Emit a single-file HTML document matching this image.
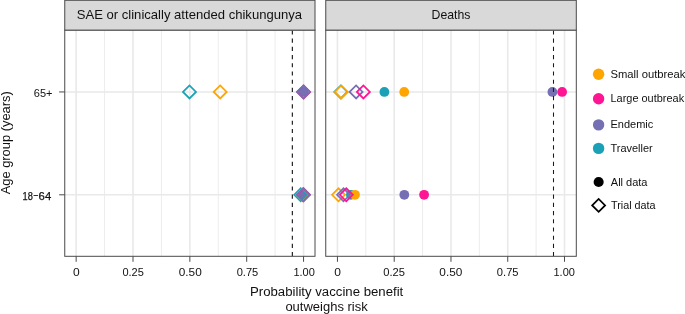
<!DOCTYPE html>
<html><head><meta charset="utf-8"><title>Figure</title><style>html,body{margin:0;padding:0;background:#fff}svg{display:block}</style></head><body>
<svg width="685" height="314" viewBox="0 0 685 314" font-family="'Liberation Sans', sans-serif" fill="#111">
<rect width="685" height="314" fill="#fff"/>
<line x1="104.58" x2="104.58" y1="30.10" y2="256.30" stroke="#e9e9e9" stroke-width="0.85"/>
<line x1="161.43" x2="161.43" y1="30.10" y2="256.30" stroke="#e9e9e9" stroke-width="0.85"/>
<line x1="218.28" x2="218.28" y1="30.10" y2="256.30" stroke="#e9e9e9" stroke-width="0.85"/>
<line x1="275.12" x2="275.12" y1="30.10" y2="256.30" stroke="#e9e9e9" stroke-width="0.85"/>
<line x1="76.15" x2="76.15" y1="30.10" y2="256.30" stroke="#e9e9e9" stroke-width="1.6"/>
<line x1="133.00" x2="133.00" y1="30.10" y2="256.30" stroke="#e9e9e9" stroke-width="1.6"/>
<line x1="189.85" x2="189.85" y1="30.10" y2="256.30" stroke="#e9e9e9" stroke-width="1.6"/>
<line x1="246.70" x2="246.70" y1="30.10" y2="256.30" stroke="#e9e9e9" stroke-width="1.6"/>
<line x1="303.55" x2="303.55" y1="30.10" y2="256.30" stroke="#e9e9e9" stroke-width="1.6"/>
<line x1="64.75" x2="315.00" y1="91.95" y2="91.95" stroke="#e9e9e9" stroke-width="1.5"/>
<line x1="64.75" x2="315.00" y1="194.80" y2="194.80" stroke="#e9e9e9" stroke-width="1.5"/>
<line x1="365.83" x2="365.83" y1="30.10" y2="256.30" stroke="#e9e9e9" stroke-width="0.85"/>
<line x1="422.59" x2="422.59" y1="30.10" y2="256.30" stroke="#e9e9e9" stroke-width="0.85"/>
<line x1="479.36" x2="479.36" y1="30.10" y2="256.30" stroke="#e9e9e9" stroke-width="0.85"/>
<line x1="536.12" x2="536.12" y1="30.10" y2="256.30" stroke="#e9e9e9" stroke-width="0.85"/>
<line x1="337.45" x2="337.45" y1="30.10" y2="256.30" stroke="#e9e9e9" stroke-width="1.6"/>
<line x1="394.21" x2="394.21" y1="30.10" y2="256.30" stroke="#e9e9e9" stroke-width="1.6"/>
<line x1="450.98" x2="450.98" y1="30.10" y2="256.30" stroke="#e9e9e9" stroke-width="1.6"/>
<line x1="507.74" x2="507.74" y1="30.10" y2="256.30" stroke="#e9e9e9" stroke-width="1.6"/>
<line x1="564.50" x2="564.50" y1="30.10" y2="256.30" stroke="#e9e9e9" stroke-width="1.6"/>
<line x1="325.75" x2="576.30" y1="91.95" y2="91.95" stroke="#e9e9e9" stroke-width="1.5"/>
<line x1="325.75" x2="576.30" y1="194.80" y2="194.80" stroke="#e9e9e9" stroke-width="1.5"/>
<circle cx="303.40" cy="91.95" r="4.90" fill="#7570B3"/>
<path d="M183.00 91.95L189.50 85.45L196.00 91.95L189.50 98.45Z" fill="none" stroke="#1BA1B7" stroke-width="1.75" stroke-linejoin="miter"/>
<path d="M297.20 91.95L303.70 85.45L310.20 91.95L303.70 98.45Z" fill="none" stroke="#FF1493" stroke-width="1.75" stroke-linejoin="miter"/>
<path d="M296.90 91.95L303.40 85.45L309.90 91.95L303.40 98.45Z" fill="none" stroke="#7570B3" stroke-width="1.75" stroke-linejoin="miter"/>
<path d="M213.70 91.95L220.20 85.45L226.70 91.95L220.20 98.45Z" fill="none" stroke="#FFA500" stroke-width="1.75" stroke-linejoin="miter"/>
<circle cx="303.30" cy="194.80" r="4.90" fill="#7570B3"/>
<path d="M294.20 194.80L300.70 188.30L307.20 194.80L300.70 201.30Z" fill="none" stroke="#1BA1B7" stroke-width="1.75" stroke-linejoin="miter"/>
<path d="M296.40 194.80L302.90 188.30L309.40 194.80L302.90 201.30Z" fill="none" stroke="#FFA500" stroke-width="1.75" stroke-linejoin="miter"/>
<path d="M297.00 194.80L303.50 188.30L310.00 194.80L303.50 201.30Z" fill="none" stroke="#FF1493" stroke-width="1.75" stroke-linejoin="miter"/>
<path d="M296.90 194.80L303.40 188.30L309.90 194.80L303.40 201.30Z" fill="none" stroke="#7570B3" stroke-width="1.75" stroke-linejoin="miter"/>
<circle cx="384.40" cy="91.95" r="4.90" fill="#1BA1B7"/>
<circle cx="552.40" cy="91.95" r="4.90" fill="#7570B3"/>
<circle cx="562.10" cy="91.95" r="4.90" fill="#FF1493"/>
<circle cx="404.20" cy="91.95" r="4.90" fill="#FFA500"/>
<path d="M334.30 91.95L340.80 85.45L347.30 91.95L340.80 98.45Z" fill="none" stroke="#1BA1B7" stroke-width="1.75" stroke-linejoin="miter"/>
<path d="M349.60 91.95L356.10 85.45L362.60 91.95L356.10 98.45Z" fill="none" stroke="#7570B3" stroke-width="1.75" stroke-linejoin="miter"/>
<path d="M356.90 91.95L363.40 85.45L369.90 91.95L363.40 98.45Z" fill="none" stroke="#FF1493" stroke-width="1.75" stroke-linejoin="miter"/>
<path d="M334.80 91.95L341.30 85.45L347.80 91.95L341.30 98.45Z" fill="none" stroke="#FFA500" stroke-width="1.75" stroke-linejoin="miter"/>
<circle cx="350.90" cy="194.80" r="4.90" fill="#1BA1B7"/>
<circle cx="404.30" cy="194.80" r="4.90" fill="#7570B3"/>
<circle cx="424.10" cy="194.80" r="4.90" fill="#FF1493"/>
<circle cx="355.00" cy="194.80" r="4.90" fill="#FFA500"/>
<path d="M332.00 194.80L338.50 188.30L345.00 194.80L338.50 201.30Z" fill="none" stroke="#FFA500" stroke-width="1.75" stroke-linejoin="miter"/>
<path d="M337.00 194.80L343.50 188.30L350.00 194.80L343.50 201.30Z" fill="none" stroke="#7570B3" stroke-width="1.75" stroke-linejoin="miter"/>
<path d="M339.80 194.80L346.30 188.30L352.80 194.80L346.30 201.30Z" fill="none" stroke="#FF1493" stroke-width="1.75" stroke-linejoin="miter"/>
<line x1="292.35" x2="292.35" y1="30.40" y2="256.30" stroke="#1a1a1a" stroke-width="1.15" stroke-dasharray="4.13 4.08"/>
<line x1="553.50" x2="553.50" y1="30.40" y2="256.30" stroke="#1a1a1a" stroke-width="1.05" stroke-dasharray="4.13 4.08"/>
<rect x="64.75" y="30.10" width="250.25" height="226.20" fill="none" stroke="#4a4a4a" stroke-width="1.0"/>
<rect x="64.75" y="0.30" width="250.25" height="29.80" fill="#d9d9d9" stroke="#4a4a4a" stroke-width="1.0"/>
<rect x="325.75" y="30.10" width="250.55" height="226.20" fill="none" stroke="#4a4a4a" stroke-width="1.0"/>
<rect x="325.75" y="0.30" width="250.55" height="29.80" fill="#d9d9d9" stroke="#4a4a4a" stroke-width="1.0"/>
<line x1="76.15" x2="76.15" y1="256.30" y2="261.80" stroke="#4a4a4a" stroke-width="1.0"/>
<line x1="133.00" x2="133.00" y1="256.30" y2="261.80" stroke="#4a4a4a" stroke-width="1.0"/>
<line x1="189.85" x2="189.85" y1="256.30" y2="261.80" stroke="#4a4a4a" stroke-width="1.0"/>
<line x1="246.70" x2="246.70" y1="256.30" y2="261.80" stroke="#4a4a4a" stroke-width="1.0"/>
<line x1="303.55" x2="303.55" y1="256.30" y2="261.80" stroke="#4a4a4a" stroke-width="1.0"/>
<line x1="337.45" x2="337.45" y1="256.30" y2="261.80" stroke="#4a4a4a" stroke-width="1.0"/>
<line x1="394.21" x2="394.21" y1="256.30" y2="261.80" stroke="#4a4a4a" stroke-width="1.0"/>
<line x1="450.98" x2="450.98" y1="256.30" y2="261.80" stroke="#4a4a4a" stroke-width="1.0"/>
<line x1="507.74" x2="507.74" y1="256.30" y2="261.80" stroke="#4a4a4a" stroke-width="1.0"/>
<line x1="564.50" x2="564.50" y1="256.30" y2="261.80" stroke="#4a4a4a" stroke-width="1.0"/>
<line x1="59.15" x2="64.75" y1="91.95" y2="91.95" stroke="#4a4a4a" stroke-width="1.0"/>
<line x1="59.15" x2="64.75" y1="194.80" y2="194.80" stroke="#4a4a4a" stroke-width="1.0"/>
<text x="189.40" y="18.90" font-size="12.2" text-anchor="middle" textLength="225.40" lengthAdjust="spacingAndGlyphs">SAE or clinically attended chikungunya</text>
<text x="451.00" y="18.90" font-size="12.2" text-anchor="middle" textLength="38.90" lengthAdjust="spacingAndGlyphs">Deaths</text>
<text x="76.35" y="276.10" font-size="11" text-anchor="middle" textLength="6.70" lengthAdjust="spacingAndGlyphs">0</text>
<text x="133.10" y="276.10" font-size="11" text-anchor="middle">0.25</text>
<text x="190.25" y="276.10" font-size="11" text-anchor="middle" textLength="23.00" lengthAdjust="spacingAndGlyphs">0.50</text>
<text x="247.50" y="276.10" font-size="11" text-anchor="middle" textLength="21.60" lengthAdjust="spacingAndGlyphs">0.75</text>
<text x="304.15" y="276.10" font-size="11" text-anchor="middle">1.00</text>
<text x="337.65" y="276.10" font-size="11" text-anchor="middle" textLength="6.70" lengthAdjust="spacingAndGlyphs">0</text>
<text x="394.11" y="276.10" font-size="11" text-anchor="middle" textLength="21.70" lengthAdjust="spacingAndGlyphs">0.25</text>
<text x="450.88" y="276.10" font-size="11" text-anchor="middle" textLength="23.00" lengthAdjust="spacingAndGlyphs">0.50</text>
<text x="507.74" y="276.10" font-size="11" text-anchor="middle" textLength="21.70" lengthAdjust="spacingAndGlyphs">0.75</text>
<text x="564.20" y="276.10" font-size="11" text-anchor="middle">1.00</text>
<text x="52.50" y="96.60" font-size="11" text-anchor="end">65+</text>
<text y="199.5" font-size="11" stroke="#111" stroke-width="0.25"><tspan x="22.5" textLength="10.3" lengthAdjust="spacingAndGlyphs">18</tspan><tspan x="33.7" dy="-1.7" textLength="4.2" lengthAdjust="spacingAndGlyphs">–</tspan><tspan x="38.6" dy="1.7" textLength="12.6" lengthAdjust="spacingAndGlyphs">64</tspan></text>
<text x="326.65" y="296.40" font-size="12" text-anchor="middle" textLength="153.30" lengthAdjust="spacingAndGlyphs">Probability vaccine benefit</text>
<text x="326.55" y="311.00" font-size="12" text-anchor="middle" textLength="82.30" lengthAdjust="spacingAndGlyphs">outweighs risk</text>
<text transform="translate(10.0,142.8) rotate(-90)" font-size="12" text-anchor="middle" textLength="103" lengthAdjust="spacingAndGlyphs">Age group (years)</text>
<circle cx="598.60" cy="74.20" r="5.70" fill="#FFA500"/>
<text x="610.50" y="77.90" font-size="11" text-anchor="start" textLength="75.00" lengthAdjust="spacingAndGlyphs">Small outbreak</text>
<circle cx="598.60" cy="98.70" r="5.70" fill="#FF1493"/>
<text x="610.50" y="102.00" font-size="11" text-anchor="start" textLength="73.60" lengthAdjust="spacingAndGlyphs">Large outbreak</text>
<circle cx="598.60" cy="124.85" r="5.70" fill="#7570B3"/>
<text x="610.50" y="127.90" font-size="11" text-anchor="start" textLength="42.80" lengthAdjust="spacingAndGlyphs">Endemic</text>
<circle cx="598.60" cy="148.40" r="5.70" fill="#1BA1B7"/>
<text x="610.50" y="151.80" font-size="11" text-anchor="start" textLength="42.20" lengthAdjust="spacingAndGlyphs">Traveller</text>
<circle cx="598.65" cy="182.05" r="5.05" fill="#000"/>
<text x="610.80" y="185.70" font-size="11" text-anchor="start" textLength="36.70" lengthAdjust="spacingAndGlyphs">All data</text>
<path d="M592.20 205.40L598.65 198.95L605.10 205.40L598.65 211.85Z" fill="none" stroke="#000" stroke-width="1.75" stroke-linejoin="miter"/>
<text x="611.00" y="208.75" font-size="11" text-anchor="start" textLength="44.60" lengthAdjust="spacingAndGlyphs">Trial data</text>
</svg>
</body></html>
